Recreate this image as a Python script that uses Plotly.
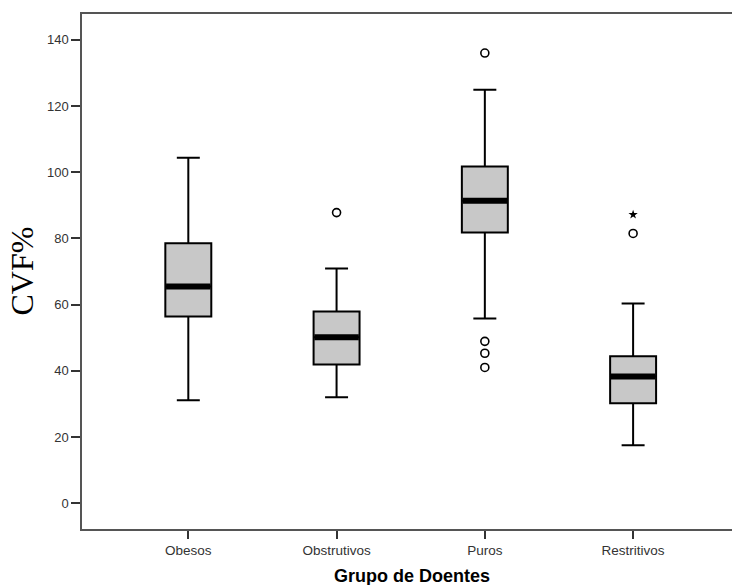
import plotly.graph_objects as go

categories = ["Obesos", "Obstrutivos", "Puros", "Restritivos"]
lower_whisker = [31.1, 32.0, 55.8, 17.5]
q1 = [56.4, 41.9, 81.8, 30.2]
median = [65.5, 50.1, 91.4, 38.3]
q3 = [78.5, 57.9, 101.7, 44.4]
upper_whisker = [104.4, 70.9, 124.9, 60.3]
outliers = [[], [87.8], [136.0, 48.9, 45.3, 41.0], [81.5]]
extremes = [[], [], [], [87.2]]

positions = list(range(len(categories)))
box_w = 0.31

fig = go.Figure()

fig.add_trace(go.Box(
    x=positions, q1=q1, median=median, q3=q3,
    lowerfence=lower_whisker, upperfence=upper_whisker,
    width=box_w, whiskerwidth=0.5, boxpoints=False,
    fillcolor="#c8c8c8", line=dict(color="black", width=2),
    showlegend=False, hoverinfo="skip",
))

# thick median bars
mx, my = [], []
for p, m in zip(positions, median):
    mx += [p - box_w / 2 + 0.005, p + box_w / 2 - 0.005, None]
    my += [m, m, None]
fig.add_trace(go.Scatter(x=mx, y=my, mode="lines",
                         line=dict(color="black", width=6),
                         showlegend=False, hoverinfo="skip"))

ox, oy = [], []
for p, vals in zip(positions, outliers):
    ox += [p] * len(vals)
    oy += vals
fig.add_trace(go.Scatter(x=ox, y=oy, mode="markers",
                         marker=dict(symbol="circle-open", size=8, color="black",
                                     line=dict(width=1.6, color="black")),
                         showlegend=False, hoverinfo="skip"))

ex, ey = [], []
for p, vals in zip(positions, extremes):
    ex += [p] * len(vals)
    ey += vals
fig.add_trace(go.Scatter(x=ex, y=ey, mode="markers",
                         marker=dict(symbol="star", size=7, color="black"),
                         showlegend=False, hoverinfo="skip"))

axis_color = "#555555"
fig.update_layout(
    width=732, height=585,
    margin=dict(l=82, r=0, t=14, b=56, autoexpand=False),
    paper_bgcolor="white", plot_bgcolor="white",
    font=dict(family="Liberation Sans, Arial, sans-serif", color="#333333"),
    xaxis=dict(
        range=[-0.717, 3.667], tickvals=positions, ticktext=categories,
        showgrid=False, zeroline=False, showline=True, linecolor=axis_color,
        linewidth=1.5, mirror=True, ticks="outside", ticklen=8, tickwidth=1.5,
        tickcolor="#333333", tickfont=dict(size=13.5, color="#333333"),
    ),
    yaxis=dict(
        range=[-7.8, 147.8], tickvals=[0, 20, 40, 60, 80, 100, 120, 140],
        showgrid=False, zeroline=False, showline=True, linecolor=axis_color,
        linewidth=1.5, mirror=False, ticks="outside", ticklen=9, tickwidth=1.5,
        tickcolor="#333333", tickfont=dict(size=13, color="#333333"),
    ),
    annotations=[
        dict(text="CVF%", xref="paper", yref="paper", x=-0.0938, y=0.5,
             xanchor="center", yanchor="middle", textangle=-90, showarrow=False,
             font=dict(family="Liberation Serif, Times New Roman, serif", size=32, color="black")),
        dict(text="<b>Grupo de Doentes</b>", xref="paper", yref="paper", x=0.5077, y=-0.0913,
             xanchor="center", yanchor="middle", showarrow=False,
             font=dict(family="Liberation Sans, Arial, sans-serif", size=18, color="black")),
    ],
)

fig.write_html("out.html", config={"displayModeBar": False},
               post_script="document.body.style.margin='0';document.body.style.overflow='hidden';")
